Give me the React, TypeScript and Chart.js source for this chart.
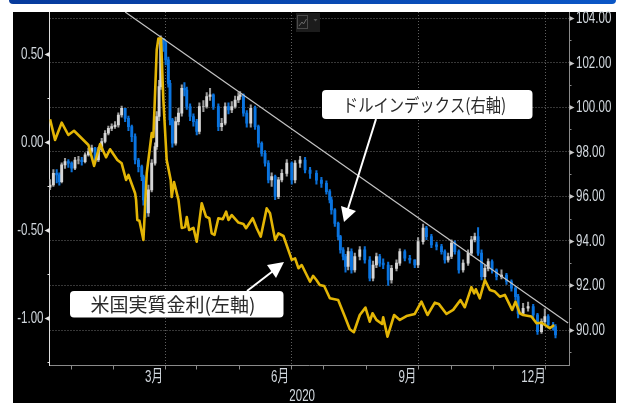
import React, { useEffect, useRef } from "react";
import { Chart, registerables } from "chart.js";

Chart.register(...registerables);

// US dollar index, 2020: x is days since 1 January
const dxyDays = [
  0, 2.4, 4.8, 6.7, 8.4, 10.8, 13.2, 15.6, 18, 20.5,
  22.9, 25.3, 27.7, 30.1, 32.5, 34.9, 37.3, 39.7, 42.1, 44.5,
  46.9, 49.3, 51.7, 54.2, 56.6, 59, 61.4, 63.8, 66.2, 67.4,
  68.8, 71, 73.4, 75.8, 77, 78.7, 79.9, 81.8, 83.5, 85.4,
  86.6, 88.3, 90.7, 92.7, 95.1, 97, 98.7, 101.1, 103.5, 105.9,
  107.8, 110.7, 113.1, 115.5, 117.9, 121.5, 123.9, 126.4, 128.8, 131.2,
  133.6, 136, 137.2, 139.6, 142, 144.9, 148, 150.4, 152.8, 155.2,
  157.6, 160, 162.5, 164.9, 167.3, 170.9, 174.5, 176.9, 180.5, 184.1,
  187.7, 192.3, 195.9, 199.5, 201.9, 203.1, 205.6, 208, 209.6, 211.6,
  213.3, 215.2, 217.6, 220, 223.6, 227.2, 230.8, 233.2, 235.6, 238,
  240.5, 244.1, 246.5, 250.1, 252.5, 256.1, 259.7, 263.3, 265.7, 269.3,
  271.7, 275.3, 279, 282.6, 285, 287.4, 289.8, 292.2, 295.1, 298.2,
  301.8, 304.2, 306.6, 309, 311.5, 313.9, 316.3, 319.1, 322.3, 325.9,
  329.5, 333.1, 336, 337.9, 341.5, 345.1, 348.8, 351.9, 354.8, 357.2,
  359.6, 363.2, 364.9,
];
const dxyClose = [
  96.51, 97.03, 96.96, 96.66, 97.41, 97.56, 97.49, 97.26, 97.63, 97.63,
  97.56, 97.86, 98.01, 98.16, 97.63, 98.08, 98.46, 98.83, 99.05, 99.13,
  99.2, 99.65, 99.95, 99.5, 99.13, 98.68, 97.63, 97.33, 96.88, 95.84,
  95.25, 96.29, 97.49, 98.23, 99.58, 100.92, 103.09, 102.87, 102.12, 101.07,
  99.43, 98.38, 99.35, 99.73, 100.85, 100.77, 100.03, 99.58, 99.35, 98.91,
  100.03, 100.03, 100.48, 100.55, 100.03, 99.13, 99.28, 100.03, 99.88, 100.03,
  100.32, 100.48, 100.55, 99.73, 99.28, 99.95, 99.13, 98.38, 97.93, 97.49,
  96.74, 96.89, 95.99, 96.74, 97.03, 97.49, 96.74, 97.49, 97.63, 97.18,
  97.03, 96.73, 96.58, 96.21, 95.84, 95.39, 94.79, 94.19, 93.6, 93.3,
  92.85, 93.52, 92.7, 93.3, 93.6, 93.15, 92.33, 92.92, 93.3, 93.0,
  92.92, 92.25, 92.77, 93.0, 93.52, 93.22, 93.15, 92.92, 93.97, 94.57,
  94.19, 93.82, 93.75, 93.52, 93.15, 93.3, 93.9, 93.52, 92.7, 93.0,
  93.45, 94.05, 94.19, 93.45, 92.4, 92.77, 93.07, 92.7, 92.4, 92.47,
  92.18, 91.88, 91.5, 90.75, 90.98, 91.05, 90.68, 89.93, 90.38, 90.6,
  90.23, 90.16, 89.78,
];
const dxyHigh = [
  96.75, 97.2, 97.2, 97.05, 97.5, 97.7, 97.65, 97.55, 97.75, 97.8,
  97.75, 97.95, 98.15, 98.3, 98.2, 98.2, 98.6, 98.95, 99.15, 99.25,
  99.35, 99.75, 100.05, 99.95, 99.6, 99.2, 98.8, 97.7, 97.4, 96.95,
  95.95, 96.5, 97.65, 98.4, 99.8, 101.2, 103.2, 103.05, 102.95, 102.25,
  101.2, 99.5, 99.55, 99.95, 101.0, 101.1, 100.9, 100.15, 99.7, 99.45,
  100.2, 100.3, 100.65, 100.85, 100.6, 100.15, 99.5, 100.2, 100.2, 100.25,
  100.5, 100.65, 100.7, 100.6, 99.85, 100.1, 100.05, 99.2, 98.45, 98.05,
  97.6, 97.05, 96.95, 96.85, 97.2, 97.65, 97.55, 97.6, 97.8, 97.75,
  97.3, 97.15, 96.85, 96.7, 96.3, 95.95, 95.45, 94.85, 94.25, 93.7,
  93.4, 93.7, 93.65, 93.45, 93.75, 93.75, 93.3, 93.1, 93.45, 93.4,
  93.2, 93.05, 92.9, 93.15, 93.65, 93.6, 93.35, 93.15, 94.15, 94.75,
  94.65, 94.3, 93.95, 93.85, 93.6, 93.45, 94.05, 94.0, 93.6, 93.15,
  93.6, 94.2, 94.35, 94.6, 93.6, 92.9, 93.2, 93.15, 92.75, 92.7,
  92.55, 92.25, 91.95, 91.6, 91.2, 91.25, 91.15, 90.75, 90.5, 90.95,
  90.7, 90.35, 90.25,
];
const dxyLow = [
  96.3, 96.45, 96.6, 96.5, 96.6, 97.25, 97.3, 97.1, 97.2, 97.45,
  97.4, 97.5, 97.8, 97.95, 97.45, 97.55, 98.0, 98.4, 98.75, 98.95,
  99.05, 99.1, 99.55, 99.35, 98.95, 98.45, 97.45, 97.1, 96.7, 95.6,
  95.05, 95.1, 96.2, 97.4, 98.1, 99.4, 100.8, 102.5, 101.9, 100.9,
  99.2, 98.2, 98.3, 99.2, 99.6, 100.5, 99.9, 99.4, 99.15, 98.75,
  98.8, 99.8, 99.95, 100.3, 99.9, 98.95, 98.95, 99.2, 99.7, 99.75,
  99.95, 100.2, 100.35, 99.6, 99.1, 99.1, 99.0, 98.2, 97.8, 97.35,
  96.6, 96.45, 95.85, 95.9, 96.65, 96.9, 96.55, 96.6, 97.3, 97.05,
  96.8, 96.55, 96.4, 96.1, 95.7, 95.2, 94.65, 94.05, 93.45, 93.15,
  92.6, 92.7, 92.55, 92.6, 93.15, 93.0, 92.2, 92.2, 92.8, 92.85,
  92.75, 92.0, 92.1, 92.65, 92.9, 93.1, 93.0, 92.8, 92.8, 93.85,
  94.05, 93.7, 93.6, 93.4, 93.0, 93.05, 93.2, 93.4, 92.55, 92.6,
  92.9, 93.35, 93.95, 93.35, 92.25, 92.3, 92.65, 92.55, 92.25, 92.3,
  92.05, 91.75, 91.35, 90.55, 90.65, 90.85, 90.55, 89.8, 89.85, 90.25,
  90.1, 90.0, 89.65,
];

// US real yield, left axis
const realYieldDays = [
  0, 3.6, 8.4, 13.2, 17.3, 21.7, 27.7, 31.8, 36.1, 40.4,
  43.3, 48.6, 51.7, 54.9, 56.6, 61.4, 62.1, 63, 64.5, 67.4,
  69.8, 73.4, 74.6, 77, 78.2, 80.1, 81.8, 84.2, 87.1, 87.8,
  89.5, 92.7, 95.1, 97.5, 98.7, 100.4, 103.5, 105.9, 109.5, 112.6,
  115, 116.7, 118.7, 121.5, 124.7, 127.1, 128.8, 131.2, 136, 139.6,
  141.5, 146.3, 149.2, 152.1, 156.4, 158.8, 162.5, 164.9, 168.5, 174.5,
  176.9, 179.3, 181.7, 187.7, 189.9, 192.3, 194.7, 197.9, 202, 208,
  212.8, 216.4, 219.3, 223.6, 227.7, 230.8, 232.8, 235.6, 239.7, 240.5,
  243.6, 248.4, 252.5, 257.3, 263.3, 268.1, 272.5, 277.8, 280.6, 286.2,
  291, 296.3, 299.4, 304.2, 306.2, 307.4, 310.2, 313.9, 317.5, 321.1,
  324.7, 328.3, 333.6, 336, 339.1, 341.5, 347.5, 351.2, 354.8, 360.8,
  363.9,
];
const realYield = [
  0.129, 0.012, 0.11, 0.04, 0.064, 0.03, -0.017, -0.136, -0.011, -0.087,
  -0.041, -0.102, -0.121, -0.216, -0.187, -0.291, -0.329, -0.443, -0.447, -0.557,
  -0.176, 0.051, 0.029, 0.523, 0.588, 0.588, 0.239, -0.102, -0.216, -0.312,
  -0.227, -0.329, -0.488, -0.483, -0.426, -0.5, -0.488, -0.566, -0.348, -0.424,
  -0.433, -0.519, -0.528, -0.433, -0.439, -0.396, -0.443, -0.415, -0.458, -0.466,
  -0.49, -0.433, -0.49, -0.538, -0.377, -0.405, -0.557, -0.519, -0.534, -0.67,
  -0.661, -0.717, -0.699, -0.794, -0.761, -0.784, -0.812, -0.818, -0.888, -0.898,
  -0.992, -1.064, -1.081, -0.983, -0.941, -1.021, -0.973, -1.011, -1.034, -0.996,
  -1.106, -0.983, -1.011, -0.989, -0.977, -0.907, -0.983, -0.913, -0.92, -0.977,
  -0.954, -0.898, -0.939, -0.825, -0.86, -0.837, -0.888, -0.784, -0.841, -0.85,
  -0.879, -0.869, -0.954, -0.907, -0.973, -0.983, -0.992, -1.03, -1.027, -1.058,
  -1.04,
];

// Downward trend line along the dollar index peaks
const trendDays = [54.2, 374];
const trendValues = [104.27, 90.32];

const monthStarts = [0, 31, 60, 91, 121, 152, 182, 213, 244, 274, 305, 335, 366];
const quarterLines = [91, 182, 274, 366];
const monthLabels: [number, string][] = [
  [75, "3月"],
  [166, "6月"],
  [258, "9月"],
  [349, "12月"],
];
const yearLabel = "2020";
const yearDay = 182;
const dollarCallout = "ドルインデックス(右軸)";
const yieldCallout = "米国実質金利(左軸)";

const axisFont = "17px 'Liberation Sans', 'Noto Sans CJK JP', sans-serif";
const axisColor = "#d2d8de";
const labelFont = "'Noto Sans CJK JP', sans-serif";

function roundedBox(ctx: CanvasRenderingContext2D, x: number, y: number, w: number, h: number, r: number) {
  ctx.beginPath();
  ctx.roundRect(x, y, w, h, r);
  ctx.fill();
}

function arrow(
  ctx: CanvasRenderingContext2D,
  from: [number, number],
  neck: [number, number],
  head: [number, number][],
) {
  ctx.strokeStyle = "#ffffff";
  ctx.fillStyle = "#ffffff";
  ctx.lineWidth = 2;
  ctx.beginPath();
  ctx.moveTo(from[0], from[1]);
  ctx.lineTo(neck[0], neck[1]);
  ctx.stroke();
  ctx.beginPath();
  ctx.moveTo(head[0][0], head[0][1]);
  ctx.lineTo(head[1][0], head[1][1]);
  ctx.lineTo(head[2][0], head[2][1]);
  ctx.closePath();
  ctx.fill();
}

// Writes one axis label in the terminal's narrow lettering
function narrowText(
  ctx: CanvasRenderingContext2D,
  text: string,
  x: number,
  y: number,
  align: CanvasTextAlign,
) {
  ctx.save();
  ctx.translate(x, y);
  ctx.scale(0.68, 1);
  ctx.font = axisFont;
  ctx.fillStyle = axisColor;
  ctx.textAlign = align;
  ctx.textBaseline = "middle";
  ctx.fillText(text, 0, 0);
  ctx.restore();
}

// Axis pointers and labels, the toolbar glyph and the two callouts
const overlayPlugin = {
  id: "overlay",
  afterDraw(chart: any) {
    const { ctx, scales } = chart;
    ctx.save();

    const xs = scales.x;
    const yl = scales.yLeft;
    const yr = scales.yRight;
    const leftX = chart.chartArea.left;
    const rightX = chart.chartArea.right;
    const bottomY = chart.chartArea.bottom;

    yl.ticks.forEach((t: any) => {
      const y = Math.round(yl.getPixelForValue(t.value)) + 0.5;
      ctx.fillStyle = "#e4e4e4";
      if (t.label) {
        ctx.beginPath();
        ctx.moveTo(leftX, y - 2.5);
        ctx.lineTo(leftX, y + 2.5);
        ctx.lineTo(leftX - 5, y);
        ctx.closePath();
        ctx.fill();
        narrowText(ctx, t.label, leftX - 6, y, "right");
      } else {
        ctx.fillRect(leftX - 2, y - 0.5, 2, 1);
      }
    });
    yr.ticks.forEach((t: any) => {
      const y = Math.round(yr.getPixelForValue(t.value)) + 0.5;
      if (t.label) {
        ctx.fillStyle = "#c8c8c8";
        ctx.beginPath();
        ctx.moveTo(rightX, y - 2.5);
        ctx.lineTo(rightX, y + 2.5);
        ctx.lineTo(rightX + 5, y);
        ctx.closePath();
        ctx.fill();
        narrowText(ctx, t.label, rightX + 6.5, y, "left");
      } else {
        ctx.fillStyle = "#8a8a8a";
        ctx.fillRect(rightX, y - 0.5, 2, 1);
      }
    });
    xs.ticks.forEach((t: any) => {
      if (!t.label) return;
      const x = xs.getPixelForValue(t.value);
      if (t.value === yearDay) narrowText(ctx, t.label, x, bottomY + 31, "center");
      else narrowText(ctx, t.label, x, bottomY + 12, "center");
    });

    // Toolbar glyph at the top of the plot
    ctx.fillStyle = "#1c1c1c";
    ctx.fillRect(296, 13, 24, 19);
    ctx.strokeStyle = "#4a4a4a";
    ctx.lineWidth = 1;
    ctx.strokeRect(297.5, 15.5, 10, 13);
    ctx.strokeStyle = "#6a6a6a";
    ctx.beginPath();
    ctx.moveTo(299, 26);
    ctx.lineTo(302, 22);
    ctx.lineTo(303.5, 24);
    ctx.lineTo(306.5, 19);
    ctx.stroke();
    ctx.fillStyle = "#555555";
    ctx.beginPath();
    ctx.moveTo(313.5, 19);
    ctx.lineTo(317.5, 19);
    ctx.lineTo(315.5, 21.5);
    ctx.closePath();
    ctx.fill();

    // Callout arrows
    arrow(ctx, [376, 119], [347, 212], [[341, 206], [356, 211], [344, 222]]);
    arrow(ctx, [247, 291], [273, 271], [[267, 265], [284, 262], [276, 278]]);

    // Callout boxes
    ctx.fillStyle = "#ffffff";
    roundedBox(ctx, 322, 90, 210.5, 29, 4);
    roundedBox(ctx, 70, 291, 213.5, 26.5, 4);
    ctx.fillStyle = "#2a2a2a";
    ctx.textAlign = "center";
    ctx.textBaseline = "middle";
    ctx.font = `19px ${labelFont}`;
    ctx.fillText(yieldCallout, 173, 305);
    // The dollar label is set slightly narrow inside its box
    ctx.save();
    ctx.translate(424.5, 105);
    ctx.scale(0.85, 1);
    ctx.font = `18px ${labelFont}`;
    ctx.fillText(dollarCallout, 0, 0);
    ctx.restore();
    ctx.restore();
  },
};

export default function App() {
  const canvasRef = useRef<HTMLCanvasElement | null>(null);

  useEffect(() => {
    document.body.style.margin = "0";
    const canvas = canvasRef.current;
    if (!canvas) return;

    const opens = dxyClose.map((c, i) => (i === 0 ? dxyClose[0] - 0.1 : dxyClose[i - 1]));
    const isUp = (i: number) => dxyClose[i] >= opens[i];

    const chart = new Chart(canvas, {
      type: "bar",
      data: {
        datasets: [
          {
            type: "line",
            label: "米国実質金利",
            data: realYieldDays.map((x, i) => ({ x, y: realYield[i] })),
            yAxisID: "yLeft",
            borderColor: "#e3b505",
            borderWidth: 2.6,
            borderJoinStyle: "round",
            pointRadius: 0,
            tension: 0,
            order: 0,
          },
          {
            type: "line",
            label: "トレンド",
            data: trendDays.map((x, i) => ({ x, y: trendValues[i] })),
            yAxisID: "yRight",
            borderColor: "#c4c4c4",
            borderWidth: 1.2,
            pointRadius: 0,
            tension: 0,
            order: 1,
          },
          {
            type: "bar",
            label: "始値-終値",
            data: dxyDays.map((x, i) => ({ x, y: [opens[i], dxyClose[i]] })),
            yAxisID: "yRight",
            backgroundColor: (c: any) => (isUp(c.dataIndex) ? "#d6d6d6" : "#0a74e0"),
            barThickness: 2.2,
            grouped: false,
            order: 2,
          },
          {
            type: "bar",
            label: "高値-安値",
            data: dxyDays.map((x, i) => ({ x, y: [dxyLow[i], dxyHigh[i]] })),
            yAxisID: "yRight",
            backgroundColor: (c: any) => (isUp(c.dataIndex) ? "#9a9a9a" : "#0a6fd6"),
            barThickness: 1.4,
            grouped: false,
            order: 3,
          },
        ],
      } as any,
      options: {
        animation: false,
        responsive: false,
        layout: { padding: { top: 12, left: 0, right: 0, bottom: 0 } },
        plugins: { legend: { display: false }, tooltip: { enabled: false } },
        scales: {
          x: {
            type: "linear",
            offset: false,
            min: -0.4,
            max: 375,
            afterBuildTicks(scale: any) {
              const all = [...monthStarts, ...monthLabels.map((m) => m[0])];
              scale.ticks = all.sort((a, b) => a - b).map((value) => ({ value }));
            },
            afterFit(scale: any) {
              scale.height = 37.5;
              scale.paddingLeft = 0;
              scale.paddingRight = 0;
            },
            ticks: {
              display: false,
              autoSkip: false,
              maxRotation: 0,
              callback(value: any) {
                const m = monthLabels.find((e) => e[0] === value);
                if (m) return m[1];
                if (value === yearDay) return yearLabel;
                return "";
              },
            },
            grid: {
              color: (c: any) => (c.tick && quarterLines.includes(c.tick.value) ? "#5f5f5f" : "transparent"),
              tickColor: (c: any) => (c.tick && monthStarts.includes(c.tick.value) ? "#8a8a8a" : "transparent"),
              tickLength: 4,
              tickBorderDash: [],
            },
            border: { color: "#8a8a8a", width: 1, dash: [1, 2] },
          },
          yLeft: {
            type: "linear",
            position: "left",
            min: -1.27,
            max: 0.739,
            afterFit(scale: any) {
              scale.width = 49.5;
              scale.paddingTop = 0;
              scale.paddingBottom = 0;
            },
            ticks: {
              display: false,
              stepSize: 0.25,
              includeBounds: false,
              callback(value: any) {
                return Math.abs((value * 2) % 1) < 1e-6 ? Number(value).toFixed(2) : "";
              },
            },
            grid: { drawOnChartArea: false, drawTicks: false },
            border: { color: "#dddddd", width: 1 },
          },
          yRight: {
            type: "linear",
            position: "right",
            min: 88.41,
            max: 104.27,
            afterFit(scale: any) {
              scale.width = 48.5;
              scale.paddingTop = 0;
              scale.paddingBottom = 0;
            },
            ticks: {
              display: false,
              stepSize: 1,
              includeBounds: false,
              callback(value: any) {
                return value % 2 === 0 ? Number(value).toFixed(2) : "";
              },
            },
            grid: {
              drawTicks: false,
              color: (c: any) => (c.tick && c.tick.value % 2 === 0 ? "#6e6e6e" : "transparent"),
            },
            border: { color: "#8a8a8a", width: 1, dash: [1, 2] },
          },
        },
      } as any,
      plugins: [overlayPlugin],
    });
    return () => chart.destroy();
  }, []);

  return (
    <div style={{ position: "absolute", left: 0, top: 0, width: 618, height: 403, background: "#ffffff", overflow: "hidden" }}>
      <div
        style={{
          position: "absolute",
          left: 9,
          top: 0,
          width: 607,
          height: 4,
          borderRadius: "0 0 6px 6px",
          background: "linear-gradient(90deg, #063a9c, #0a56c6)",
        }}
      />
      <div style={{ position: "absolute", left: 13, top: 12, width: 603, height: 391, background: "#000000" }} />
      <canvas ref={canvasRef} width={618} height={403} style={{ position: "absolute", left: 0, top: 0 }} />
    </div>
  );
}
